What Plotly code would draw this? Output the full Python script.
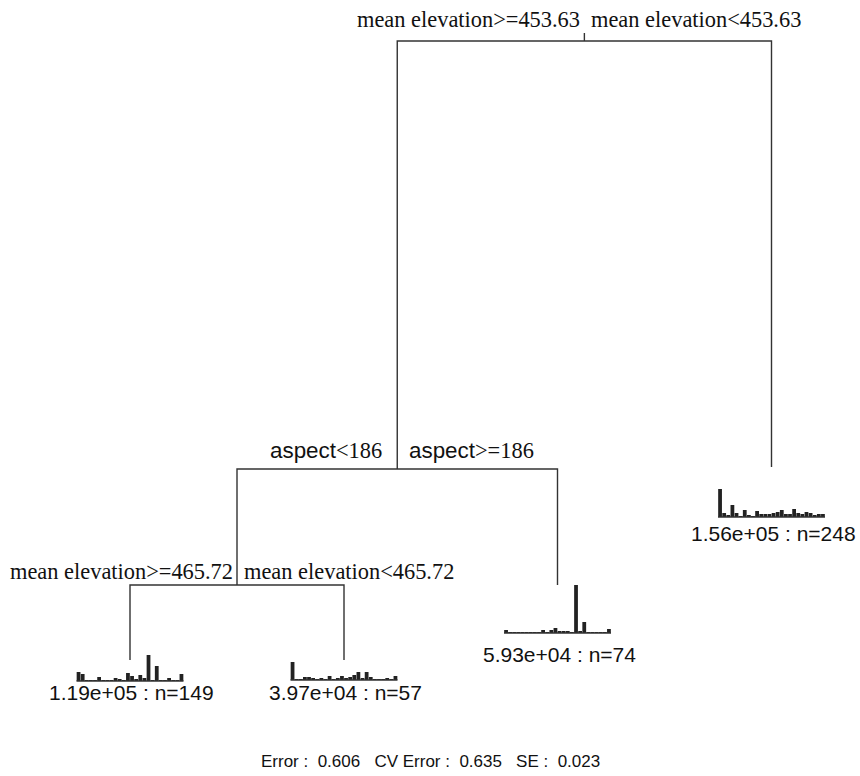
import plotly.graph_objects as go

# ---------------- data ----------------
split_left_labels = ["mean elevation>=453.63", "aspect<186", "mean elevation>=465.72"]
split_right_labels = ["mean elevation<453.63", "aspect>=186", "mean elevation<465.72"]

leaf_means = ["1.19e+05", "3.97e+04", "5.93e+04", "1.56e+05"]
leaf_n = [149, 57, 74, 248]

# relative mean abundances of the 26 response variables in each leaf
leaf1_vals = [9, 7, 0.5, 1, 1, 4, 0.5, 1, 1, 3, 2, 0.5, 8, 5, 2, 6, 3, 26, 1, 15, 1, 1, 3, 1, 0.5, 7]
leaf2_vals = [18, 1, 1, 3, 3, 2, 1, 2, 1, 4, 1, 2, 4, 2, 3, 5, 8, 2, 8, 3, 0.5, 1, 1, 2, 0.5, 4]
leaf3_vals = [3, 0.5, 0.5, 0.5, 0.5, 1, 0.5, 0.5, 0.5, 3, 1, 3, 5, 2, 2, 2, 1, 48, 2, 11, 0.5, 0.5, 1, 0.5, 0.5, 4]
leaf4_vals = [28, 4, 2, 12, 4, 1, 7, 2, 1, 6, 3, 3, 3, 4, 5, 7, 3, 3, 8, 4, 3, 5, 4, 2, 3, 3]

error_val = 0.606
cv_error_val = 0.635
se_val = 0.023

# ---------------- layout (pixel coordinates) ----------------
W, H = 860, 776
leaf_x = [130, 344, 557.5, 771.5]
leaf_line_end = [660, 660, 585, 467]
leaf_base = [681, 680, 633, 517]
leaf_label_y = [692, 692, 654, 533]
hist_width = 107

root_y, node2_y, node4_y = 41, 469, 585
root_top = 33

fig = go.Figure()


def seg(xs, ys, width=1.4):
    fig.add_trace(go.Scatter(x=xs, y=ys, mode="lines",
                             line=dict(color="#333333", width=width),
                             hoverinfo="skip", showlegend=False))


# node positions derived from children
node4_x = (leaf_x[0] + leaf_x[1]) / 2
node2_x = (node4_x + leaf_x[2]) / 2
root_x = (node2_x + leaf_x[3]) / 2

# root split
seg([root_x, root_x], [root_top, root_y])
seg([node2_x, node2_x, leaf_x[3], leaf_x[3]], [node2_y, root_y, root_y, leaf_line_end[3]])
# node 2 split
seg([node4_x, node4_x, leaf_x[2], leaf_x[2]], [node4_y, node2_y, node2_y, leaf_line_end[2]])
# node 4 split
seg([leaf_x[0], leaf_x[0], leaf_x[1], leaf_x[1]], [leaf_line_end[0], node4_y, node4_y, leaf_line_end[1]])

# leaf histograms
all_vals = [leaf1_vals, leaf2_vals, leaf3_vals, leaf4_vals]
for k, vals in enumerate(all_vals):
    nb = len(vals)
    bw = hist_width / nb
    left = leaf_x[k] - hist_width / 2
    xs = [left + bw * (i + 0.5) for i in range(nb)]
    fig.add_trace(go.Bar(x=xs, y=[-v for v in vals], base=leaf_base[k], width=bw * 0.92,
                         marker=dict(color="#222222", line=dict(width=0)),
                         hoverinfo="skip", showlegend=False))
    seg([left, left + hist_width], [leaf_base[k], leaf_base[k]], width=1.6)

annotations = []
serif = "Liberation Serif, Times New Roman, serif"
sans = "Liberation Sans, Arial, sans-serif"


def fmt_label(s):
    # word rendered in sans, relational part in serif (as in the original)
    if s.startswith("aspect"):
        return '<span style="font-family:Liberation Sans">aspect</span>' + s[len("aspect"):]
    return s


split_pos = [
    (19.5, 468.5, 696),
    (450, 325.5, 471.5),
    (571, 121, 348.5),
]
for (ty, lx, rx), ll, rl in zip(split_pos, split_left_labels, split_right_labels):
    annotations.append(dict(x=lx, y=ty, text=fmt_label(ll), showarrow=False,
                            xanchor="center", yanchor="middle",
                            font=dict(family=serif, size=22.4, color="#111111")))
    annotations.append(dict(x=rx, y=ty, text=fmt_label(rl), showarrow=False,
                            xanchor="center", yanchor="middle",
                            font=dict(family=serif, size=22.4, color="#111111")))

for k in range(4):
    annotations.append(dict(x=leaf_x[k] + 1.5, y=leaf_label_y[k],
                            text=f"{leaf_means[k]} : n={leaf_n[k]}", showarrow=False,
                            xanchor="center", yanchor="middle",
                            font=dict(family=sans, size=21, color="#111111")))

sp = "\u00a0"
footer = (f"Error :{sp}{sp}{error_val:.3f}{sp}{sp}{sp}CV Error :{sp}{sp}{cv_error_val:.3f}"
          f"{sp}{sp}{sp}SE :{sp}{sp}{se_val:.3f}")
annotations.append(dict(x=430, y=761, text=footer, showarrow=False,
                        xanchor="center", yanchor="middle",
                        font=dict(family=sans, size=17, color="#111111")))

fig.update_layout(
    width=W, height=H,
    margin=dict(l=0, r=0, t=0, b=0),
    paper_bgcolor="white", plot_bgcolor="white",
    barmode="overlay",
    xaxis=dict(range=[0, W], visible=False, fixedrange=True),
    yaxis=dict(range=[H, 0], visible=False, fixedrange=True),
    annotations=annotations,
    showlegend=False,
)

fig.write_html("out.html",
               config={"displayModeBar": False},
               post_script="document.body.style.margin='0px';document.body.style.overflow='hidden';")
